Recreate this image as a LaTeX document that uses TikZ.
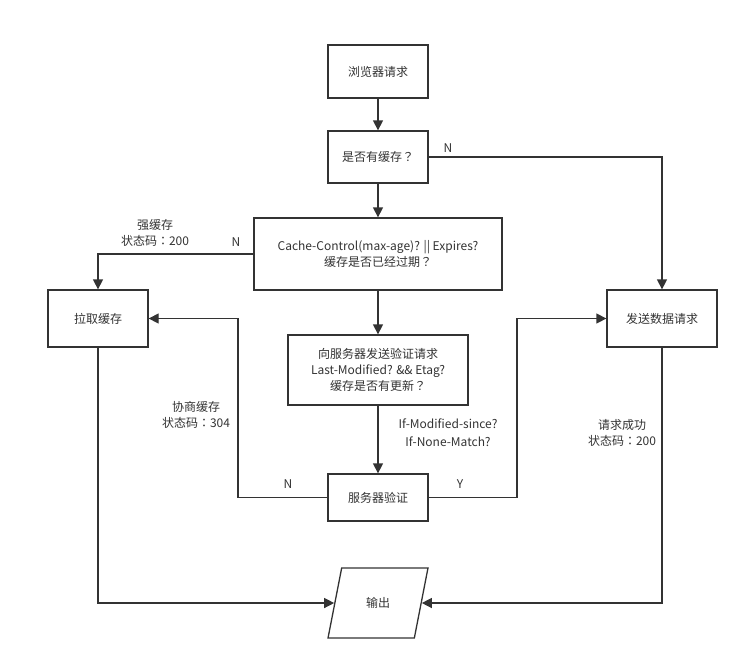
\documentclass[tikz,border=0pt]{standalone}
\usepackage{fontspec}
\setmainfont{Noto Sans CJK SC}
\newfontfamily\punctfont{Noto Sans CJK TC}
\newcommand{\qm}{{\punctfont ？}}
\newcommand{\cl}{{\punctfont ：}}
\usetikzlibrary{arrows.meta,shapes.geometric}
\pgfdeclarelayer{edgelayer}
\pgfdeclarelayer{nodelayer}
\pgfsetlayers{edgelayer,nodelayer,main}
\definecolor{ink}{HTML}{333333}
\tikzstyle{edge}=[draw=ink, line width=1.3pt, -{Triangle[length=10pt,width=10pt]}]
\tikzstyle{line}=[draw=ink, line width=1.3pt]
\tikzstyle{box}=[rectangle, fill=white, draw=ink, line width=1.3pt, text=ink, align=center, font=\fontsize{12}{16}\selectfont]
\tikzstyle{io}=[trapezium, trapezium left angle=72, trapezium right angle=108, trapezium stretches=true, fill=white, draw=ink, line width=1.3pt, text=ink, font=\fontsize{12}{16}\selectfont]
\tikzstyle{lbl}=[text=ink, align=center, font=\fontsize{12}{16}\selectfont]

\begin{document}
\begin{tikzpicture}[x=1pt, y=-1pt]
				\useasboundingbox (0,0) rectangle (754,670);
				\begin{pgfonlayer}{nodelayer}
					\node [style=box, minimum width=100pt, minimum height=53pt] (browser) at (378, 71.5) {浏览器请求};
					\node [style=box, minimum width=100pt, minimum height=52pt] (hascache) at (378, 157) {是否有缓存\qm};
					\node [style=box, minimum width=248pt, minimum height=72pt] (expired) at (378, 254) {Cache-Control(max-age)? || Expires?\\缓存是否已经过期\qm};
					\node [style=box, minimum width=180pt, minimum height=70pt] (revalidate) at (378, 370) {向服务器发送验证请求\\Last-Modified? \&\& Etag?\\缓存是否有更新\qm};
					\node [style=box, minimum width=100pt, minimum height=47pt] (verify) at (378, 497.5) {服务器验证};
					\node [style=box, minimum width=100pt, minimum height=57pt] (pull) at (98, 318.5) {拉取缓存};
					\node [style=box, minimum width=110pt, minimum height=57pt] (send) at (662, 318.5) {发送数据请求};
					\node [style=io, minimum width=100pt, minimum height=70pt] (output) at (378, 603) {输出};
					\node [style=lbl] (nocache) at (448, 148) {N};
					\node [style=lbl] (notexp) at (236, 242) {N};
					\node [style=lbl] (strong) at (155, 233) {强缓存\\状态码\cl 200};
					\node [style=lbl] (headers) at (448, 433) {If-Modified-since?\\[2pt]If-None-Match?};
					\node [style=lbl] (unmod) at (288, 484) {N};
					\node [style=lbl] (mod) at (460, 484) {Y};
					\node [style=lbl] (nego) at (196, 415) {协商缓存\\状态码\cl 304};
					\node [style=lbl] (ok) at (622, 433) {请求成功\\状态码\cl 200};
				\end{pgfonlayer}
				\begin{pgfonlayer}{edgelayer}
					\coordinate (turnN) at (238, 497.5);
					\coordinate (turnY) at (517, 497.5);
					\draw [style=edge] (browser) to (hascache);
					\draw [style=edge] (hascache) to (expired);
					\draw [style=edge] (expired) to (revalidate);
					\draw [style=edge] (revalidate) to (verify);
					\draw [style=edge] (hascache.east) -| (send.north);
					\draw [style=edge] (expired.west) -| (pull.north);
					\draw [style=line] (verify.west) -- (turnN);
					\draw [style=edge] (turnN) |- (pull.east);
					\draw [style=line] (verify.east) -- (turnY);
					\draw [style=edge] (turnY) |- (send.west);
					\draw [style=edge] (pull.south) |- (output.west);
					\draw [style=edge] (send.south) |- (output.east);
				\end{pgfonlayer}
			\end{tikzpicture}
\end{document}
